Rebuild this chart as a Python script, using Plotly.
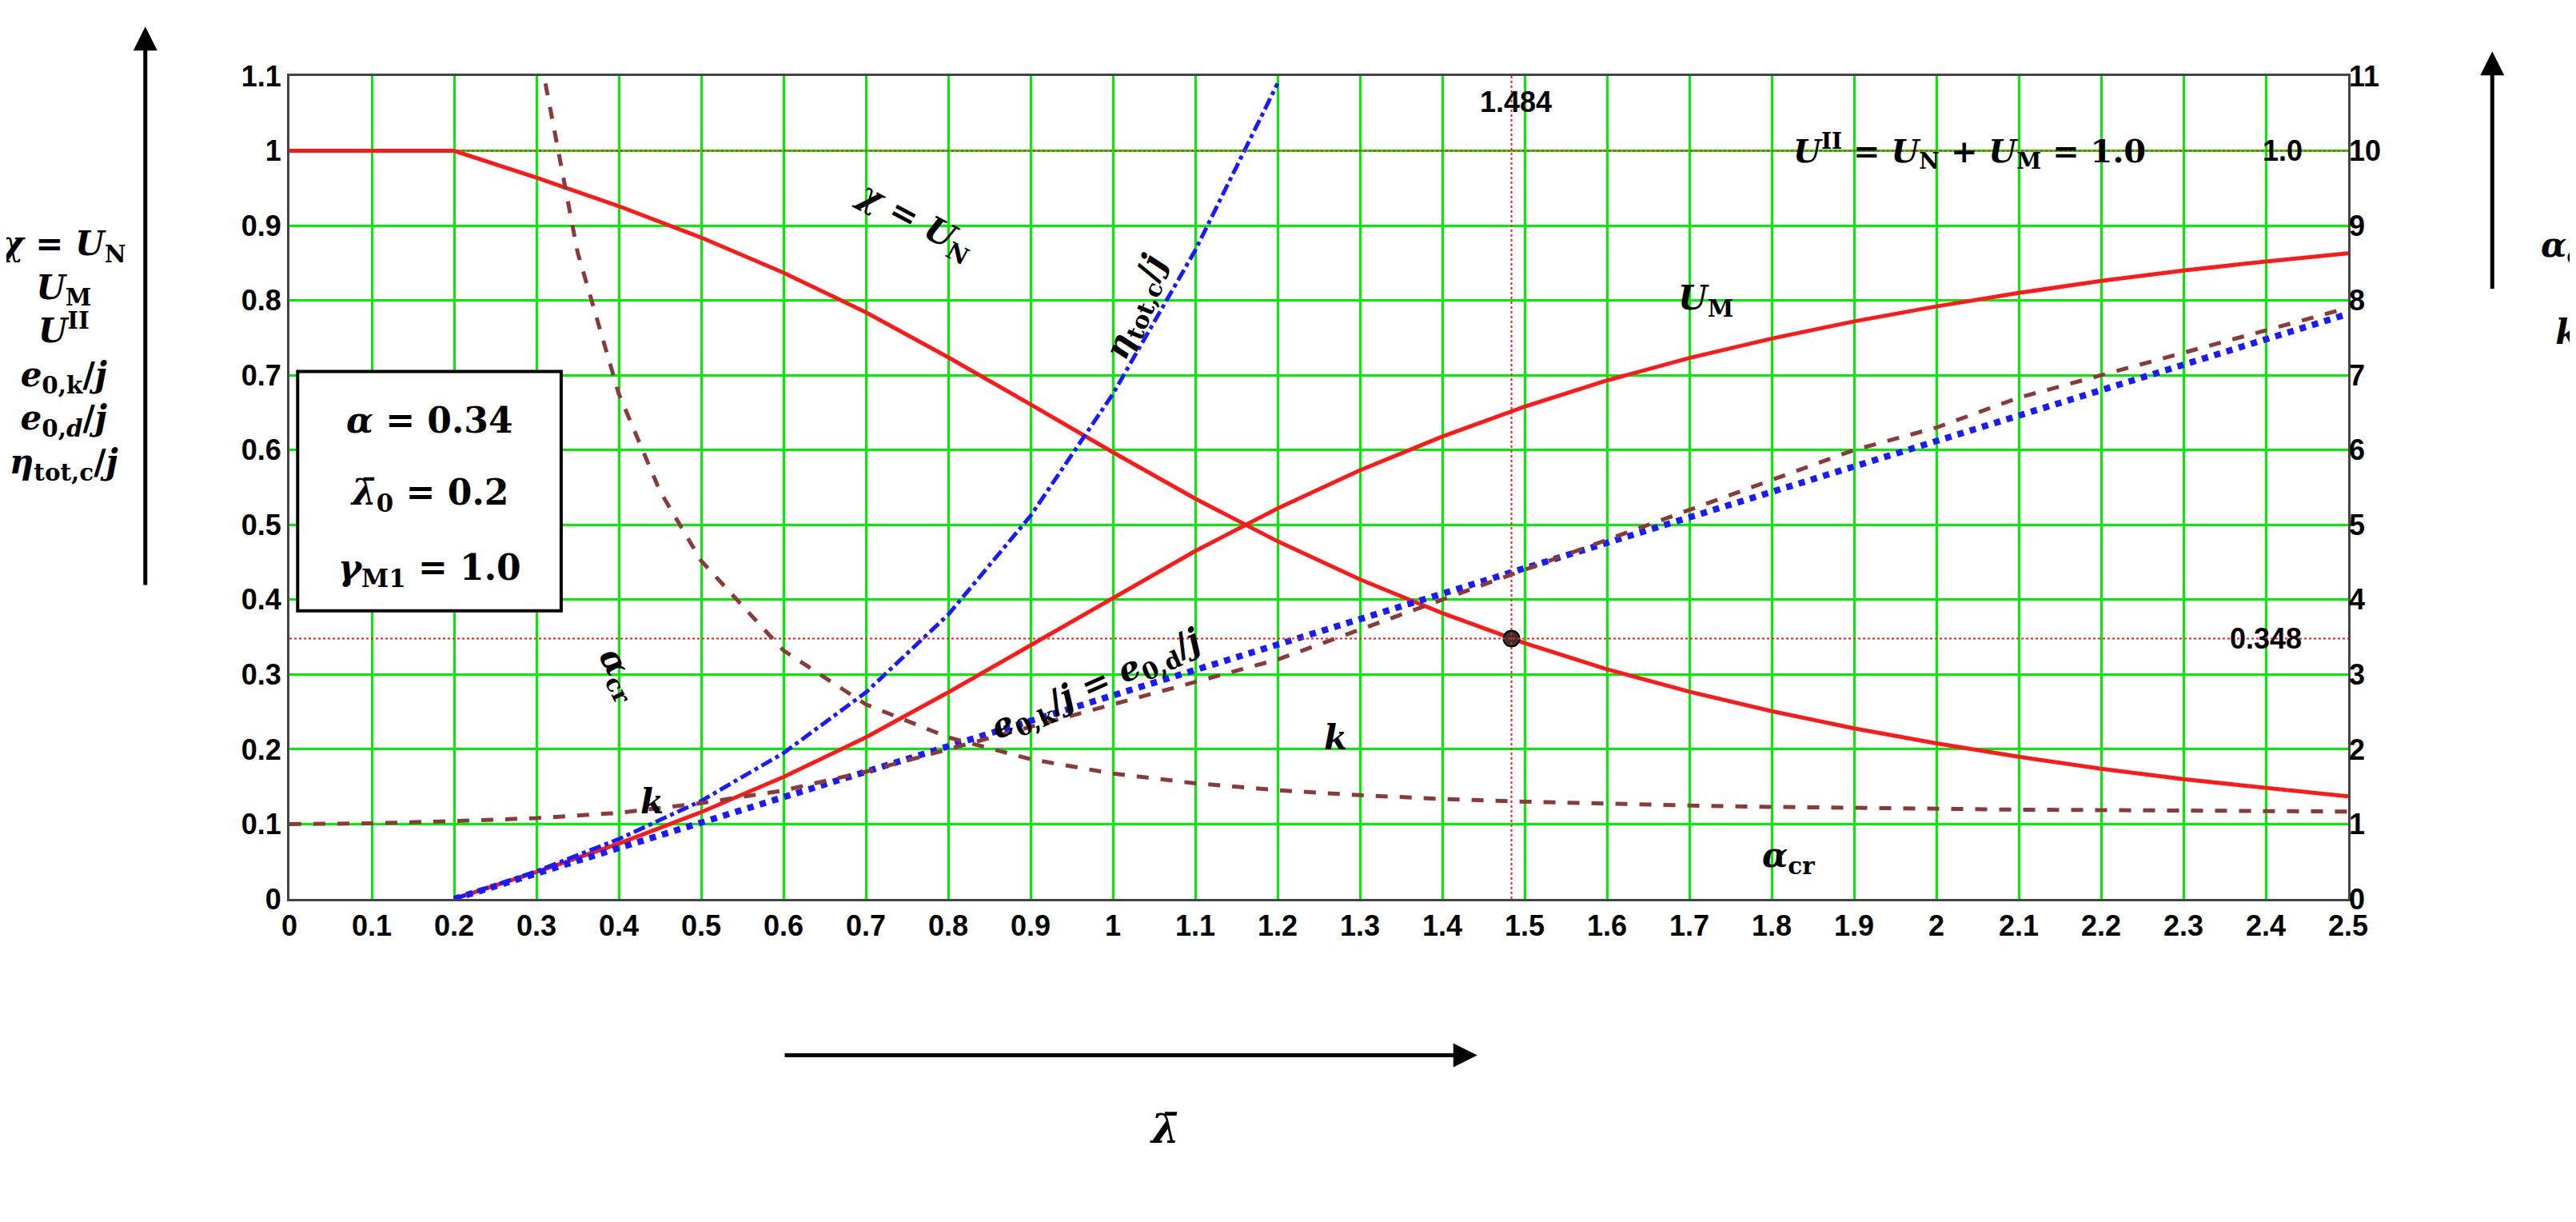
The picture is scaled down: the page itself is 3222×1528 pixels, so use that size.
import plotly.graph_objects as go

# buckling curve data
lam = [0, 0.1, 0.2, 0.3, 0.4, 0.5, 0.6, 0.7, 0.8, 0.9, 1.0, 1.1, 1.2, 1.3, 1.4,
       1.5, 1.6, 1.7, 1.8, 1.9, 2.0, 2.1, 2.2, 2.3, 2.4, 2.5]
chi = [1.0, 1.0, 1.0, 0.964, 0.926, 0.884, 0.837, 0.784, 0.724, 0.661, 0.597, 0.535,
       0.478, 0.427, 0.382, 0.342, 0.307, 0.277, 0.251, 0.228, 0.208, 0.190, 0.174,
       0.160, 0.148, 0.137]
um = [None, None, 0.0, 0.036, 0.074, 0.116, 0.163, 0.216, 0.276, 0.339, 0.403, 0.465,
      0.522, 0.573, 0.618, 0.658, 0.693, 0.723, 0.749, 0.772, 0.792, 0.810, 0.826,
      0.840, 0.852, 0.863]
e0_j = [None, None, 0.0, 0.034, 0.068, 0.102, 0.136, 0.170, 0.204, 0.238, 0.272, 0.306,
        0.340, 0.374, 0.408, 0.442, 0.476, 0.510, 0.544, 0.578, 0.612, 0.646, 0.680,
        0.714, 0.748, 0.782]
lam_eta = [0.2, 0.3, 0.4, 0.5, 0.6, 0.7, 0.8, 0.9, 1.0, 1.1, 1.2]
eta_j = [0.0, 0.037, 0.08, 0.131, 0.195, 0.276, 0.38, 0.512, 0.675, 0.867, 1.09]
lam_acr = [0.3, 0.35, 0.4, 0.45, 0.5, 0.6, 0.7, 0.8, 0.9, 1.0, 1.1, 1.2, 1.3, 1.4, 1.5,
           1.6, 1.7, 1.8, 1.9, 2.0, 2.1, 2.2, 2.3, 2.4, 2.5]
alpha_cr = [11.53, 8.64, 6.75, 5.45, 4.52, 3.32, 2.60, 2.16, 1.868, 1.675, 1.545, 1.453,
            1.386, 1.336, 1.300, 1.272, 1.249, 1.230, 1.215, 1.202, 1.193, 1.187, 1.181,
            1.173, 1.168]
k = [1.0, 1.01, 1.04, 1.08, 1.15, 1.28, 1.45, 1.7, 2.0, 2.3, 2.6, 2.9, 3.2, 3.6, 4.0,
     4.4, 4.8, 5.2, 5.6, 6.0, 6.3, 6.7, 7.0, 7.3, 7.6, 7.9]

lam_mark = 1.484
chi_mark = 0.348

x_ticks = [round(i * 0.1, 1) for i in range(26)]
x_labels = [("%g" % v) for v in x_ticks]

RED = "#ff1a1a"
BROWN = "#8b3a3a"
BLUE = "#1a1aff"
MATH = "DejaVu Serif"
TICK = dict(family="Liberation Sans", size=36, color="black")

fig = go.Figure()
fig.add_trace(go.Scatter(x=lam, y=chi, mode="lines", line=dict(color=RED, width=5)))
fig.add_trace(go.Scatter(x=lam, y=um, mode="lines", line=dict(color=RED, width=5)))
fig.add_trace(go.Scatter(x=lam_eta, y=eta_j, mode="lines",
                         line=dict(color=BLUE, width=5, dash="dashdot")))
fig.add_trace(go.Scatter(x=lam_acr, y=alpha_cr, yaxis="y2", mode="lines",
                         line=dict(color=BROWN, width=5, dash="dash")))
fig.add_trace(go.Scatter(x=lam, y=k, yaxis="y2", mode="lines",
                         line=dict(color=BROWN, width=5, dash="dash")))
fig.add_trace(go.Scatter(x=lam, y=e0_j, mode="lines",
                         line=dict(color=BLUE, width=8, dash="dot")))
fig.add_trace(go.Scatter(x=[lam_mark], y=[chi_mark], mode="markers",
                         marker=dict(color="#333333", size=20, line=dict(color="black", width=2))))

# red dotted reference lines
for shp in [dict(x0=0, x1=2.5, y0=1.0, y1=1.0), dict(x0=0, x1=2.5, y0=chi_mark, y1=chi_mark),
            dict(x0=lam_mark, x1=lam_mark, y0=0, y1=1.1)]:
    fig.add_shape(type="line", xref="x", yref="y", line=dict(color=RED, width=2, dash="dot"), **shp)

# parameter box
fig.add_shape(type="rect", xref="x", yref="y", x0=0.01, x1=0.33, y0=0.385, y1=0.705,
              line=dict(color="black", width=4), fillcolor="white", layer="above")

ann = [
    (0.17, 0.64, "<b><i>α</i> = 0.34</b>", 0, 44),
    (0.17, 0.54, "<b><i>λ̄</i><sub>0</sub> = 0.2</b>", 0, 44),
    (0.17, 0.44, "<b><i>γ</i><sub>M1</sub> = 1.0</b>", 0, 44),
    (0.76, 0.905, "<b><i>χ</i> = <i>U</i><sub>N</sub></b>", 28, 42),
    (1.03, 0.79, "<b><i>η</i><sub>tot,c</sub>/<i>j</i></b>", -68, 42),
    (1.72, 0.80, "<b><i>U</i><sub>M</sub></b>", 0, 42),
    (0.40, 0.30, "<b><i>α</i><sub>cr</sub></b>", 62, 42),
    (0.98, 0.285, "<b><i>e</i><sub>0,k</sub>/<i>j</i> = <i>e</i><sub>0,d</sub>/<i>j</i></b>", -24, 42),
    (1.27, 0.215, "<b><i>k</i></b>", 0, 42),
    (0.44, 0.13, "<b><i>k</i></b>", 0, 42),
    (1.82, 0.055, "<b><i>α</i><sub>cr</sub></b>", 0, 42),
    (2.04, 1.0, "<b><i>U</i><sup>II</sup> = <i>U</i><sub>N</sub> + <i>U</i><sub>M</sub> = 1.0</b>", 0, 40),
]
for x, y, t, ang, sz in ann:
    fig.add_annotation(x=x, y=y, xref="x", yref="y", text=t, showarrow=False, textangle=ang,
                       font=dict(family=MATH, size=sz, color="black"))

for x, y, t in [(lam_mark + 0.005, 1.065, "1.484"), (2.42, 1.0, "1.0"), (2.4, chi_mark, "0.348")]:
    fig.add_annotation(x=x, y=y, xref="x", yref="y", text="<b>%s</b>" % t, showarrow=False,
                       font=TICK)

# axis titles with arrows
fig.add_annotation(xref="paper", yref="paper", x=-0.11, y=0.5, text=(
    "<b><i>χ</i> = <i>U</i><sub>N</sub><br><i>U</i><sub>M</sub><br><i>U</i><sup>II</sup><br>"
    "<i>e</i><sub>0,k</sub>/<i>j</i><br><i>e</i><sub>0,<i>d</i></sub>/<i>j</i><br>"
    "<i>η</i><sub>tot,c</sub>/<i>j</i></b>"), showarrow=False, xanchor="center", yanchor="bottom",
    font=dict(family=MATH, size=42, color="black"), align="center")
fig.add_annotation(xref="paper", yref="paper", x=1.12, y=0.82, text=(
    "<b><i>α</i><sub>cr</sub><br><br><i>k</i></b>"), showarrow=False,
    font=dict(family=MATH, size=42, color="black"), align="center")
fig.add_annotation(xref="paper", yref="paper", x=0.425, y=-0.31, text="<b><i>λ̄</i></b>",
                   showarrow=False, font=dict(family=MATH, size=50, color="black"))

for x, y, ax, ay in [(-0.07, 1.06, -0.07, 0.38), (1.07, 1.03, 1.07, 0.74),
                     (0.577, -0.19, 0.24, -0.19)]:
    fig.add_annotation(xref="x domain", yref="y domain", axref="x domain", ayref="y domain",
                       x=x, y=y, ax=ax, ay=ay, text="", showarrow=True,
                       arrowhead=2, arrowsize=1.2, arrowwidth=5, arrowcolor="black")

grid = dict(showgrid=True, gridcolor="#00ee00", gridwidth=3, zeroline=False,
            showline=True, linecolor="#444444", linewidth=3, mirror=True,
            tickfont=TICK, ticks="")
fig.update_layout(
    width=3222, height=1528, plot_bgcolor="white", paper_bgcolor="white", showlegend=False,
    margin=dict(l=354, r=293, t=87, b=412),
    xaxis=dict(range=[0, 2.5], tickvals=x_ticks, ticktext=["<b>%s</b>" % s for s in x_labels], **grid),
    yaxis=dict(range=[0, 1.1], tickvals=[round(i * 0.1, 1) for i in range(12)],
               ticktext=["<b>%g</b>" % round(i * 0.1, 1) for i in range(12)], **grid),
    yaxis2=dict(range=[0, 11], overlaying="y", side="right", tickvals=list(range(12)),
                ticktext=["<b>%d</b>" % i for i in range(12)], showgrid=False, zeroline=False,
                tickfont=TICK, ticks=""),
)
fig.write_html("out.html")
